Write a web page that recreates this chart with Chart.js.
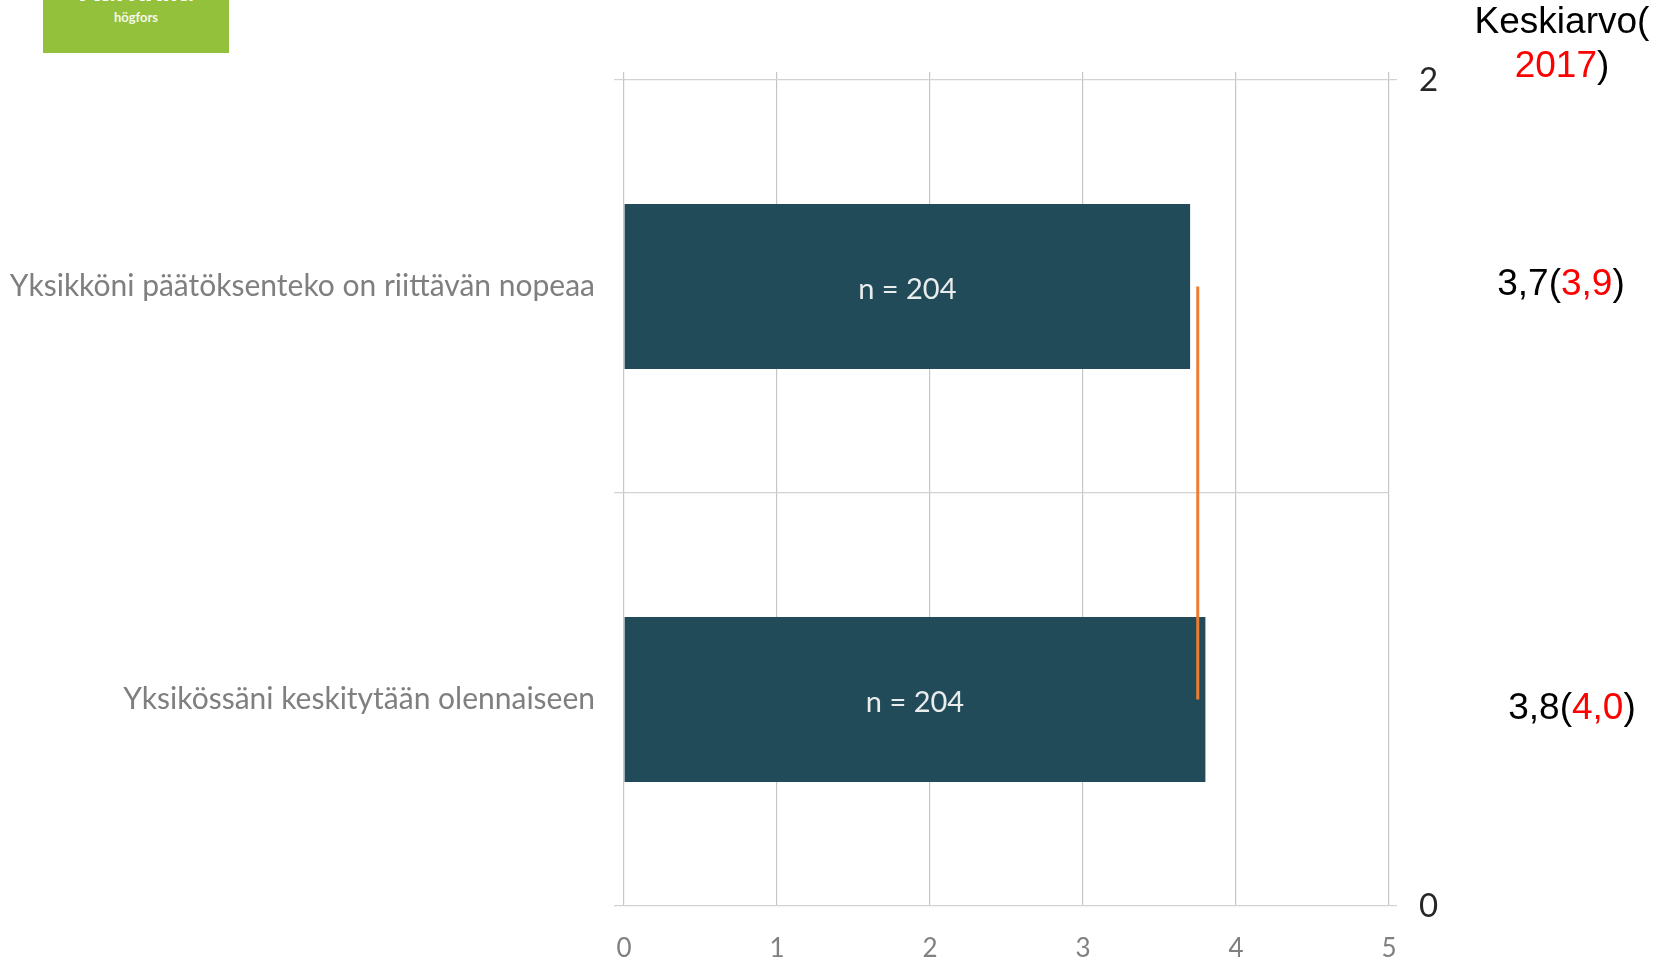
<!DOCTYPE html>
<html>
<head>
<meta charset="utf-8">
<script src="https://cdn.jsdelivr.net/npm/chart.js@4"></script>
<style>
  html, body { margin: 0; padding: 0; background: #ffffff; }
  #wrap { position: relative; width: 1667px; height: 961px; overflow: hidden; }
  #chart { position: absolute; left: 0; top: 0; }
  .logo { position: absolute; left: 43px; top: 0; width: 186px; height: 53px; background: #93c13c; overflow: hidden; }
  .logo .big { position: absolute; left: 0; width: 186px; top: -31px; text-align: center; color: #fff; font: bold 32px Lato, sans-serif; }
  .logo .small { position: absolute; left: 0; width: 186px; top: 9px; text-align: center; color: #f4f8ea; font: bold 13px Lato, sans-serif; }
</style>
</head>
<body>
<div id="wrap">
  <canvas id="chart" width="1667" height="961"></canvas>
  <div class="logo"><div class="big">Karkkila</div><div class="small">högfors</div></div>
</div>
<script>
// Survey statements and their results
const categories = [
  'Yksikköni päätöksenteko on riittävän nopeaa',
  'Yksikössäni keskitytään olennaiseen'
];
const averages = [3.7, 3.8];        // current mean per statement
const previous = ['3,9', '4,0'];    // mean in 2017
const current = ['3,7', '3,8'];
const respondents = [204, 204];
const overallMean = 3.75;           // mean across statements (orange marker)
const xTicks = [0, 1, 2, 3, 4, 5];

const GRID_V = '#c6c6c6';
const GRID_H = '#d2d2d2';
const LABEL_FONT = 'Lato, "Open Sans", sans-serif';

// Writes n = ... inside each bar and the mean column on the right
const annotate = {
  id: 'annotate',
  afterDatasetsDraw(chart) {
    const ctx = chart.ctx;
    const meta = chart.getDatasetMeta(0);
    ctx.save();
    ctx.textAlign = 'center';
    ctx.textBaseline = 'middle';
    ctx.fillStyle = '#e9ecec';
    ctx.font = '29px ' + LABEL_FONT;
    meta.data.forEach((bar, i) => {
      const cx = (bar.x + bar.base) / 2;
      ctx.fillText('n = ' + respondents[i], cx, bar.y + 3);
    });

    // right-hand column: mean (2017 mean)
    ctx.font = '37px "Liberation Sans", Arial, sans-serif';
    const drawParts = (parts, cx, y) => {
      const w = parts.reduce((s, p) => s + ctx.measureText(p[0]).width, 0);
      let x = cx - w / 2;
      ctx.textAlign = 'left';
      parts.forEach(p => {
        ctx.fillStyle = p[1];
        ctx.fillText(p[0], x, y);
        x += ctx.measureText(p[0]).width;
      });
    };
    const colX = 1562;
    drawParts([['Keskiarvo(', '#000']], colX, 23);
    drawParts([['2017', '#ff0000'], [')', '#000']], colX, 67);
    const yScale = chart.scales.y;
    categories.forEach((c, i) => {
      const y = yScale.getPixelForValue(i);
      drawParts([[current[i] + '(', '#000'], [previous[i], '#ff0000'], [')', '#000']], colX - 1 + i * 11, y + (i === 0 ? -2 : 9));
    });
    ctx.restore();
  }
};

new Chart(document.getElementById('chart'), {
  type: 'bar',
  data: {
    labels: categories,
    datasets: [
      {
        data: averages,
        backgroundColor: '#224b5a',
        borderWidth: 0,
        grouped: false,
        barPercentage: 0.5,
        categoryPercentage: 0.8,
        xAxisID: 'x',
        yAxisID: 'y',
        order: 2
      },
      {
        type: 'line',
        indexAxis: 'x',
        data: [{ x: overallMean, y: 1.5 }, { x: overallMean, y: 0.5 }],
        borderColor: '#ed7d31',
        borderWidth: 3,
        pointRadius: 0,
        fill: false,
        xAxisID: 'x',
        yAxisID: 'y2',
        order: 1
      }
    ]
  },
  options: {
    indexAxis: 'y',
    responsive: false,
    maintainAspectRatio: false,
    animation: false,
    devicePixelRatio: 1,
    layout: { padding: { top: 72, left: 0, right: 0, bottom: 0 } },
    plugins: { legend: { display: false }, tooltip: { enabled: false } },
    scales: {
      x: {
        type: 'linear',
        position: 'bottom',
        min: 0,
        max: 5,
        offset: false,
        afterBuildTicks: s => { s.ticks = xTicks.map(v => ({ value: v })); },
        grid: { color: GRID_V, lineWidth: 1.2, drawTicks: false, offset: false },
        border: { display: false },
        ticks: { color: '#808080', font: { family: LABEL_FONT, size: 26 }, padding: 27 },
        afterFit: s => { s.height = 55; }
      },
      x2: {
        type: 'linear',
        position: 'top',
        min: 0,
        max: 5,
        offset: false,
        afterBuildTicks: s => { s.ticks = xTicks.map(v => ({ value: v })); },
        grid: { color: GRID_V, lineWidth: 1.2, drawOnChartArea: false, tickLength: 8, offset: false },
        border: { display: false },
        ticks: { display: false },
        afterFit: s => { s.height = 8; }
      },
      y: {
        type: 'category',
        position: 'left',
        offset: true,
        grid: { offset: true, color: GRID_H, lineWidth: 1.2, tickLength: 10 },
        border: { display: false },
        ticks: { color: '#7f7f7f', font: { family: LABEL_FONT, size: 30 }, padding: 19 },
        afterFit: s => { s.width = 624; }
      },
      y2: {
        type: 'linear',
        position: 'right',
        min: 0,
        max: 2,
        offset: false,
        afterBuildTicks: s => { s.ticks = [{ value: 0 }, { value: 2 }]; },
        grid: { drawOnChartArea: false, offset: false, color: GRID_H, lineWidth: 1.2, tickLength: 8 },
        border: { display: false },
        ticks: { color: '#262626', font: { family: LABEL_FONT, size: 33 }, padding: 22 },
        afterFit: s => { s.width = 278; }
      }
    }
  },
  plugins: [annotate]
});
</script>
</body>
</html>
